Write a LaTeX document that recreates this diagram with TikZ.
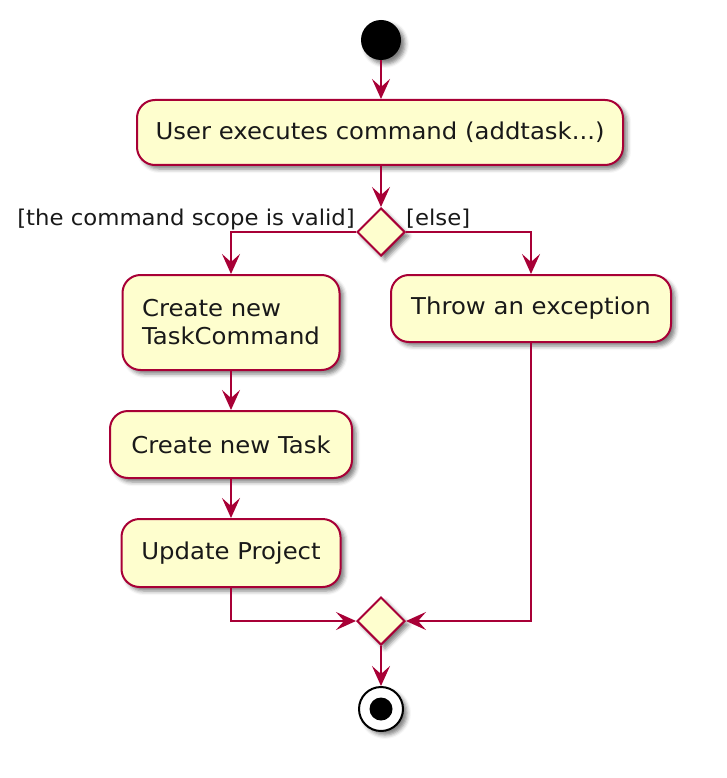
\documentclass[tikz,border=0pt]{standalone}
\usepackage{fontspec}
\setmainfont[FakeStretch=1.05]{DejaVu Sans}
\usetikzlibrary{arrows.meta,shapes.geometric,shadows.blur}
\definecolor{umlfill}{HTML}{FEFECE}
\definecolor{umlline}{HTML}{A80036}
\begin{document}
\begin{tikzpicture}[x=1pt,y=-1pt,
  shad/.style={blur shadow={shadow xshift=4pt, shadow yshift=-4pt, shadow blur radius=4pt, shadow opacity=50}},
  act/.style={rectangle, rounded corners=18pt, draw=umlline, line width=2pt, fill=umlfill,
    font=\fontsize{23.2}{28}\selectfont, inner sep=0pt, shad, text=black!90},
  dec/.style={diamond, draw=umlline, fill=umlfill, line width=2pt, minimum width=48pt,
    minimum height=48pt, inner sep=0pt, shad},
  flow/.style={draw=umlline, line width=2pt, -{Stealth[length=20pt,width=18pt,inset=8pt]}},
  guard/.style={font=\fontsize{21.7}{26}\selectfont, inner sep=0pt, text=black!90}]
\useasboundingbox (0,0) rectangle (726,778);
\node[circle, fill=black, minimum size=40pt, inner sep=0pt, shad] (start) at (381,40) {};
\node[act, minimum width=486pt, minimum height=65pt] (a1) at (380,132.5) {User executes command (addtask...)};
\node[dec] (d1) at (381,232) {};
\node[act, minimum width=217pt, minimum height=95pt, align=left] (a2) at (231,322.5) {Create new\\TaskCommand};
\node[act, minimum width=280pt, minimum height=67pt] (a3) at (531,308.5) {Throw an exception};
\node[act, minimum width=242pt, minimum height=67pt] (a4) at (231,444.5) {Create new Task};
\node[act, minimum width=219pt, minimum height=68pt] (a5) at (231,553) {Update Project};
\node[dec] (d2) at (381,621) {};
\node[circle, draw=black, fill=white, line width=2pt, minimum size=44pt, inner sep=0pt, shad] (end) at (381,709) {};
\node[circle, fill=black, minimum size=23pt, inner sep=0pt] (endin) at (end.center) {};
\node[guard, anchor=base east] (g1) at ([shift={(-1pt,7pt)}]d1.west) {[the command scope is valid]};
\node[guard, anchor=base west] (g2) at ([shift={(0pt,7pt)}]d1.east) {[else]};
\draw[flow] (start.south) -- (start.south |- a1.north);
\draw[flow] (a1.south -| d1.north) -- (d1.north);
\draw[flow] (d1.west) -| (a2.north);
\draw[flow] (d1.east) -| (a3.north);
\draw[flow] (a2.south) -- (a4.north);
\draw[flow] (a4.south) -- (a5.north);
\draw[flow] (a5.south) |- (d2.west);
\draw[flow] (a3.south) |- (d2.east);
\draw[flow] (d2.south) -- (end.north);
\end{tikzpicture}
\end{document}
